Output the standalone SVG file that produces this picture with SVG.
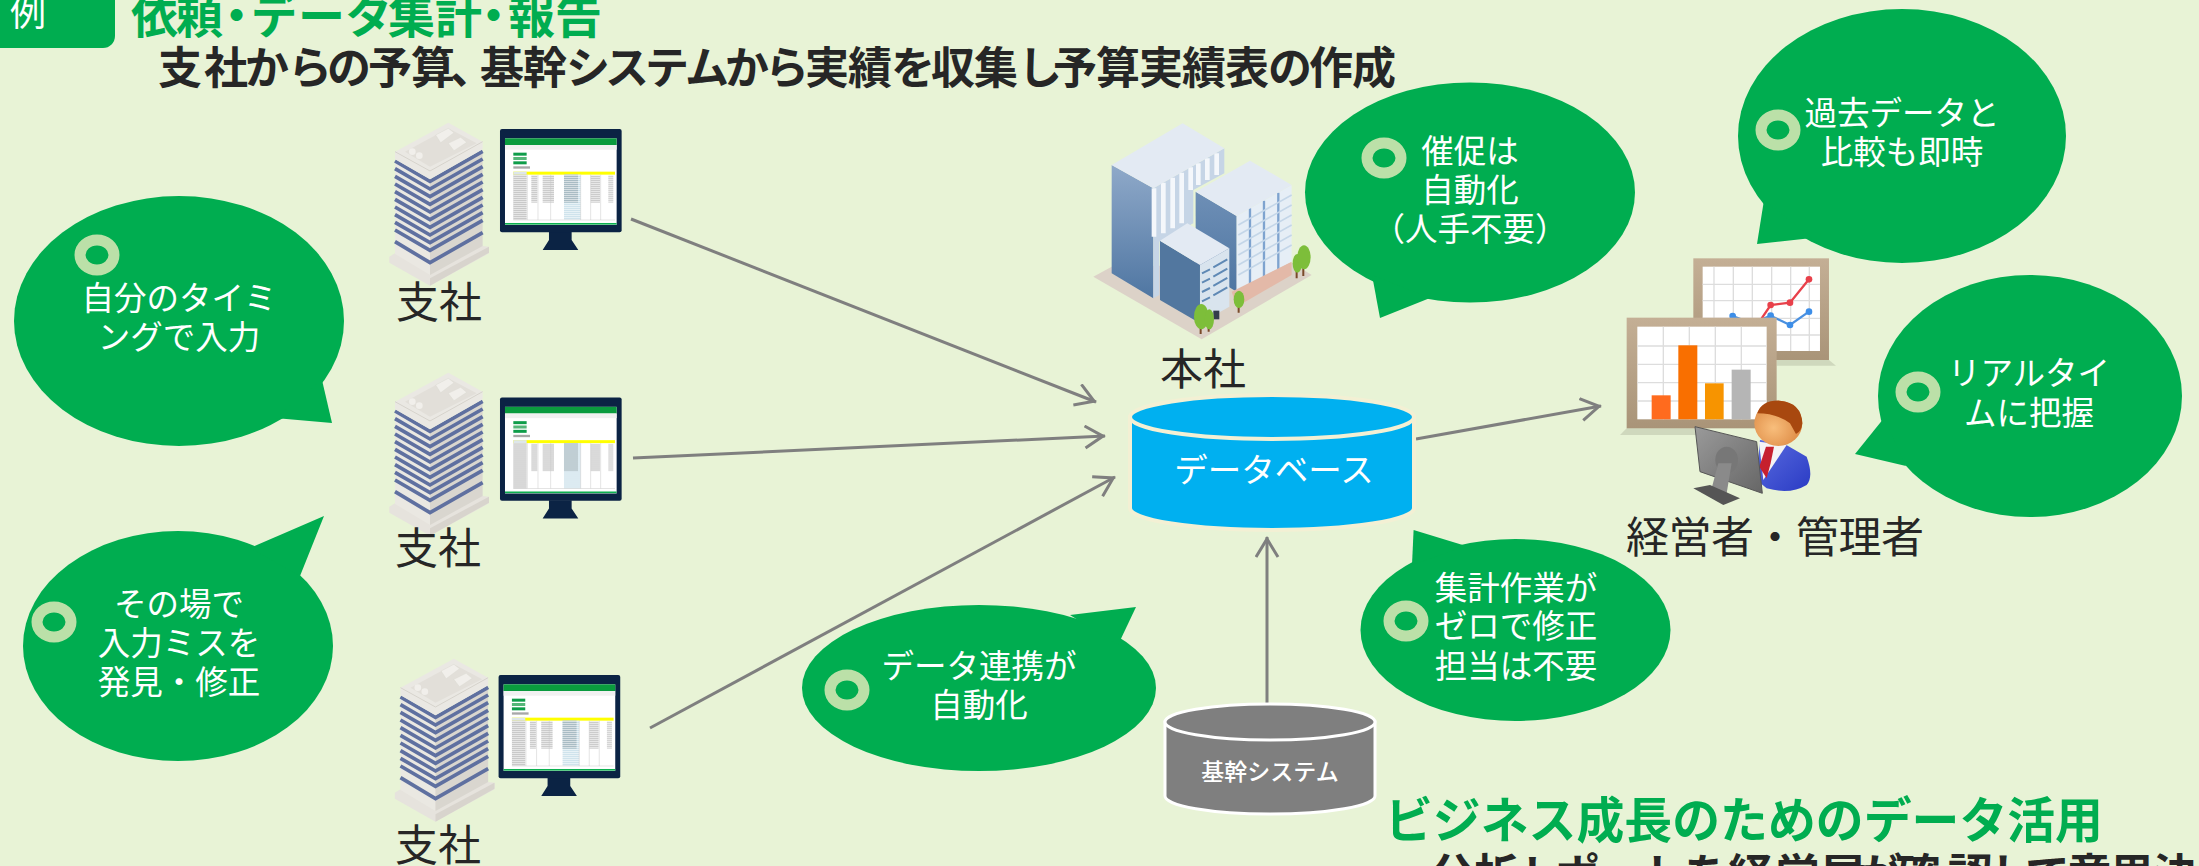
<svg xmlns="http://www.w3.org/2000/svg" xmlns:xlink="http://www.w3.org/1999/xlink" width="2199" height="866" viewBox="0 0 2199 866">
<style>
text{font-family:"Noto Sans CJK JP","Noto Sans",sans-serif}
.b{fill:#00AD50}
.w{fill:#fff;font-size:32.5px;text-anchor:middle}
.l{fill:#262626;font-size:43px}
.h{fill:#00AD50;font-size:47px;font-weight:700}
.s{fill:#262626;font-size:44px;font-weight:700}
.r{fill:none;stroke:#BBE0A8;stroke-width:11}
.c{fill:none;stroke:#7F7F7F;stroke-width:3;marker-end:url(#a)}
</style>
<defs>
<marker id="a" markerUnits="userSpaceOnUse" markerWidth="30" markerHeight="30" refX="21" refY="12" orient="auto">
<path d="M1 1L19 12L1 23" fill="none" stroke="#7F7F7F" stroke-width="3"/>
</marker>
<linearGradient id="g1" x1="0" y1="0" x2="0" y2="1"><stop offset="0" stop-color="#8FA9C9"/><stop offset="1" stop-color="#4F76A2"/></linearGradient>
<linearGradient id="g2" x1="0" y1="0" x2="0" y2="1"><stop offset="0" stop-color="#6E8FB6"/><stop offset="1" stop-color="#4F76A2"/></linearGradient>
<linearGradient id="fr" x1="0" y1="0" x2="0" y2="1"><stop offset="0" stop-color="#C4AF95"/><stop offset="1" stop-color="#A99478"/></linearGradient>
<radialGradient id="sk" cx=".4" cy=".6" r=".7"><stop offset="0" stop-color="#F8BE7C"/><stop offset="1" stop-color="#D9813A"/></radialGradient>
<linearGradient id="bl" x1="0" y1="0" x2="1" y2="1"><stop offset="0" stop-color="#5A6CE0"/><stop offset="1" stop-color="#2A3BC4"/></linearGradient>
<linearGradient id="mon" x1="0" y1="0" x2="1" y2="1"><stop offset="0" stop-color="#9A9A9A"/><stop offset="1" stop-color="#666"/></linearGradient>
<pattern id="rows" width="8" height="6" patternUnits="userSpaceOnUse"><rect width="8" height="6" fill="#fff" fill-opacity="0"/><rect y="4" width="8" height="1.6" fill="#fff"/></pattern>
<g id="tower">
<path d="M58 440L75 430L338 408L357 410V430L180 527L58 458Z" fill="#E6E3DD"/>
<path d="M180 505L357 410V428L180 527Z" fill="#D8D4CD"/>
<path d="M75 150L180 210V495L75 432Z" fill="#EAE8E2"/>
<path d="M180 210L338 120V408L180 495Z" fill="#D9D6CF"/>
<g fill="none" stroke="#5F70A0" stroke-width="11">
<path d="M75 153L180 214L338 124"/><path d="M75 176L180 237L338 147"/><path d="M75 199L180 260L338 170"/><path d="M75 222L180 283L338 193"/><path d="M75 245L180 306L338 216"/><path d="M75 268L180 329L338 239"/><path d="M75 291L180 352L338 262"/><path d="M75 314L180 375L338 285"/><path d="M75 337L180 398L338 308"/><path d="M75 360L180 421L338 331"/><path d="M75 395L180 458L338 368"/>
</g>
<path d="M75 125L235 38L338 95V118L180 208L75 148Z" fill="#EAE8E3"/>
<path d="M75 125L180 183L338 95" fill="none" stroke="#D6D3CC" stroke-width="3"/>
<path d="M105 125L235 55L320 100L180 170Z" fill="#E2DFD9"/>
<path d="M197 75L235 55L252 68L212 98ZM235 100L272 82L290 97L252 122Z" fill="#F1EFEB" stroke="#D6D3CC"/>
<circle cx="127" cy="125" r="10" fill="#F1EFEB"/><circle cx="148" cy="137" r="10" fill="#F1EFEB"/>
</g>
<g id="monitor">
<path d="M537 365H605V390L625 420H518L537 390Z" fill="#0B2344"/>
<rect x="390" y="57" width="365" height="310" rx="6" fill="#0B2344"/>
<rect x="405" y="85" width="335" height="260" fill="#fff"/>
<rect x="405" y="85" width="335" height="20" fill="#0A9B3E"/>
<rect x="405" y="339" width="335" height="5" fill="#0DB050"/>
<rect x="405" y="105" width="335" height="14" fill="#F1F1F1"/>
<rect x="430" y="128" width="40" height="9" fill="#0F9D4A"/><rect x="430" y="141" width="40" height="9" fill="#55B678"/><rect x="430" y="154" width="40" height="9" fill="#0F9D4A"/>
<rect x="430" y="169" width="50" height="7" fill="#A8A8A8"/>
<rect x="430" y="185" width="305" height="9" fill="#FFFF00"/>
<rect x="430" y="185" width="40" height="9" fill="#DDE6EA"/>
<rect x="430" y="194" width="40" height="136" fill="#C9C9C9"/>
<rect x="582" y="194" width="50" height="136" fill="#CFE3EC"/>
<rect x="582" y="194" width="42" height="84" fill="#A9BCC4"/>
<rect x="484" y="196" width="18" height="82" fill="#CCC"/><rect x="518" y="196" width="34" height="82" fill="#CCC"/><rect x="662" y="196" width="28" height="82" fill="#CCC"/><rect x="715" y="196" width="15" height="82" fill="#D4D4D4"/>
<rect x="430" y="194" width="305" height="136" fill="url(#rows)"/>
<path d="M430 330H735M472 194V330M504 194V330M542 194V330M632 194V330M662 194V330M692 194V330" stroke="#C8C8C8" stroke-width="1.5" fill="none"/>
</g>
</defs>
<rect width="2199" height="866" fill="#E8F3D6"/>
<g id="connectors">
<path class="c" d="M631 219L1096 402"/>
<path class="c" d="M633 458L1105 436"/>
<path class="c" d="M650 728L1115 477"/>
<path class="c" d="M1416 439L1601 406"/>
<path class="c" d="M1267 705V537"/>
</g>
<g id="badge">
<rect x="-20" y="-20" width="135" height="68" rx="12" class="b"/>
<text x="28" y="26" fill="#fff" font-size="36" text-anchor="middle">例</text>
</g>
<g id="titles">
<text class="h" y="33" x="131 176 213 251 298 345 388 435 470 508 555">依頼・データ集計・報告</text>
<text class="s" y="84" x="158 204 245 288 327 368 411 450 480 523 566 605 645 685 725 765 805 848 891 931 974 1018 1053 1096 1139 1182 1225 1268 1309 1352">支社からの予算、基幹システムから実績を収集し予算実績表の作成</text>
<text class="h" style="font-size:49px" x="1385" y="838" textLength="718" lengthAdjust="spacingAndGlyphs">ビジネス成長のためのデータ活用</text>
<text class="s" style="font-size:45px" y="892" x="1430 1474 1520 1555 1598 1640 1684 1728 1775 1820 1858 1895 1948 1990 2025 2067 2110 2153 2197">分析レポートを経営層が確認して意思決定</text>
</g>
<g id="branch1"><use xlink:href="#tower" transform="translate(370 110) scale(.3333)"/><use xlink:href="#monitor" transform="translate(370 110) scale(.3333)"/><text class="l" x="396" y="318">支社</text></g>
<g id="branch2"><use xlink:href="#tower" transform="translate(370 360) scale(.3333)"/><use xlink:href="#monitor" transform="translate(370 378.5) scale(.3333)"/><text class="l" x="395" y="564">支社</text></g>
<g id="branch3"><use xlink:href="#tower" transform="translate(375.5 646) scale(.3333)"/><use xlink:href="#monitor" transform="translate(368.6 656) scale(.3333)"/><text class="l" x="395" y="861">支社</text></g>
<g id="hq">
<g transform="translate(1080 110) scale(.3333)">
<path d="M40 500L95 470L640 460L695 495L365 688Z" fill="#DCD2C8"/>
<path d="M95 165L220 235V565L95 490Z" fill="url(#g1)"/>
<path d="M220 235L433 115V190L340 240V340L238 395V555L220 565Z" fill="#C6D5E6"/>
<path d="M222 235V380M250 218V370M278 203V355M305 188V340M332 172V240M355 160V225M382 145V210M410 130V195" stroke="#F4F7FB" stroke-width="14" fill="none"/>
<path d="M95 165L308 40L433 115L220 235Z" fill="#E3EAF3"/>
<path d="M347 245L470 318V545L347 470Z" fill="url(#g2)"/>
<path d="M470 318L635 225V455L470 548Z" fill="#E6EEF6"/>
<path d="M510 295V525M552 272V505M595 248V480" stroke="#7EA3CF" stroke-width="7" fill="none"/>
<path d="M475 345L635 255M475 375L635 285M475 405L635 315M475 435L635 345M475 465L635 375M475 495L635 405" stroke="#C4D6E8" stroke-width="5" fill="none"/>
<path d="M347 245L510 152L635 225L470 318Z" fill="#E3EAF3"/>
<path d="M455 545L635 455V495L470 590Z" fill="#E3B9A8"/>
<path d="M240 392L360 465V640L240 570Z" fill="#52779F"/>
<path d="M360 465L448 415V590L360 640Z" fill="#D9E4EE"/>
<path d="M366 490L390 478M400 472L442 448M366 518L390 506M400 500L442 476M366 546L390 534M400 528L442 504M366 574L390 562M400 556L442 532" stroke="#5F89B5" stroke-width="6" fill="none"/>
<path d="M240 392L322 340L448 415L360 465Z" fill="#E3EAF3"/>
<rect x="400" y="602" width="18" height="26" fill="#333E4A"/>
<g stroke="#7A4A2A" stroke-width="6"><path d="M362 620V672M386 625V665M476 570V608M650 470V505M670 460V498"/></g>
<g fill="#7DBE3A"><ellipse cx="364" cy="620" rx="22" ry="38"/><ellipse cx="388" cy="628" rx="14" ry="30"/><ellipse cx="477" cy="568" rx="16" ry="26"/><ellipse cx="652" cy="460" rx="14" ry="28"/><ellipse cx="672" cy="442" rx="20" ry="36"/></g>
</g>
<text class="l" x="1160" y="385">本社</text>
</g>
<g id="manager">
<g transform="translate(1610 250) scale(.3333)">
<path d="M500 330H657L678 347H500Z" fill="#CFD8BD"/>
<rect x="250" y="25" width="407" height="305" fill="url(#fr)"/>
<rect x="278" y="50" width="352" height="253" fill="#fff"/>
<path d="M278 103H630M278 152H630M278 205H630M278 255H630M312 50V303M370 50V303M427 50V303M485 50V303M542 50V303M598 50V303" stroke="#DDD" stroke-width="4" fill="none"/>
<path d="M368 198L425 220L482 197L540 225L597 185" fill="none" stroke="#4A90E0" stroke-width="7"/>
<path d="M455 205L482 165L540 158L597 88" fill="none" stroke="#E8404A" stroke-width="7"/>
<g fill="#E8404A"><circle cx="482" cy="165" r="10"/><circle cx="540" cy="158" r="10"/><circle cx="597" cy="88" r="10"/></g>
<g fill="#3D8EE8"><circle cx="368" cy="198" r="10"/><circle cx="482" cy="197" r="10"/><circle cx="540" cy="225" r="10"/><circle cx="597" cy="185" r="10"/></g>
<path d="M50 535L30 555H300L290 535Z" fill="#CFD8BD"/>
<rect x="50" y="203" width="450" height="332" fill="url(#fr)"/>
<rect x="82" y="230" width="388" height="278" fill="#fff"/>
<path d="M82 288H470M82 343H470M82 398H470M82 453H470M160 230V508M238 230V508M316 230V508M394 230V508" stroke="#DDD" stroke-width="4" fill="none"/>
<rect x="125" y="436" width="57" height="72" fill="#FF6B1E"/>
<rect x="205" y="286" width="57" height="222" fill="#F96F00"/>
<rect x="285" y="400" width="56" height="108" fill="#F79400"/>
<rect x="365" y="359" width="57" height="149" fill="#B5B5B5"/>
<path d="M450 570L520 580L590 620Q612 680 590 705Q540 735 470 715L440 690Z" fill="url(#bl)"/>
<path d="M447 575L530 585L460 690Z" fill="#F4F4F4"/>
<path d="M468 590H492L482 640L470 685L448 650Z" fill="#C6202E"/>
<ellipse cx="505" cy="520" rx="72" ry="68" fill="url(#sk)"/>
<path d="M442 490Q455 450 510 452Q575 458 577 520Q575 545 558 552L540 520Q500 490 442 490Z" fill="#A8480F"/>
<path d="M255 530L440 575L457 730L270 665Z" fill="url(#mon)" stroke="#555" stroke-width="3"/>
<ellipse cx="350" cy="630" rx="34" ry="40" fill="#777"/>
<path d="M325 640H365L350 730L305 715Z" fill="#8A8A8A"/>
<path d="M250 715L300 705L390 745L340 765Z" fill="#555"/>
</g>
<text class="l" x="1626" y="553" textLength="298" lengthAdjust="spacing">経営者・管理者</text>
</g>
<g id="database">
<path d="M1130 417V508A142 22 0 0 0 1414 508V417Z" fill="#00B0F0" stroke="#F3F0D4" stroke-width="4"/>
<ellipse cx="1272" cy="417" rx="142" ry="22" fill="#00B0F0" stroke="#F3F0D4" stroke-width="4"/>
<text class="w" style="font-size:33.5px" x="1274" y="482">データベース</text>
</g>
<g id="core">
<path d="M1165 722V796A105 18 0 0 0 1375 796V722Z" fill="#7F7F7F" stroke="#fff" stroke-width="3"/>
<ellipse cx="1270" cy="722" rx="105" ry="18" fill="#7F7F7F" stroke="#fff" stroke-width="3"/>
<text x="1270" y="780" fill="#fff" font-size="23" font-weight="500" text-anchor="middle">基幹システム</text>
</g>
<g id="bubble1">
<ellipse class="b" cx="179" cy="321" rx="165" ry="125"/><path class="b" d="M322 380L332 423L275 418Z"/>
<ellipse class="r" cx="97" cy="255" rx="17" ry="15"/>
<text class="w" x="179" y="310">自分のタイミ</text><text class="w" x="179" y="349">ングで入力</text>
</g>
<g id="bubble2">
<ellipse class="b" cx="178" cy="646" rx="155" ry="115"/><path class="b" d="M250 548L324 516L300 576Z"/>
<ellipse class="r" cx="54" cy="622" rx="17" ry="15"/>
<text class="w" x="179" y="616">その場で</text><text class="w" x="179" y="655">入力ミスを</text><text class="w" x="179" y="694">発見・修正</text>
</g>
<g id="bubble3">
<ellipse class="b" cx="979" cy="688" rx="177" ry="83"/><path class="b" d="M1070 615L1136 607L1118 645Z"/>
<ellipse class="r" cx="847" cy="690" rx="17" ry="15"/>
<text class="w" x="979" y="678">データ連携が</text><text class="w" x="979" y="717">自動化</text>
</g>
<g id="bubble4">
<ellipse class="b" cx="1470" cy="192.5" rx="165" ry="110"/><path class="b" d="M1372 275L1380 318L1430 298Z"/>
<ellipse class="r" cx="1384" cy="158" rx="17" ry="15"/>
<text class="w" x="1470" y="163">催促は</text><text class="w" x="1470" y="202">自動化</text><text class="w" x="1470" y="241">（人手不要）</text>
</g>
<g id="bubble5">
<ellipse class="b" cx="1902" cy="136" rx="164" ry="127"/><path class="b" d="M1764 200L1757 244L1812 238Z"/>
<ellipse class="r" cx="1778" cy="130" rx="17" ry="15"/>
<text class="w" x="1902" y="125">過去データと</text><text class="w" x="1902" y="164">比較も即時</text>
</g>
<g id="bubble6">
<ellipse class="b" cx="2030" cy="396" rx="152" ry="121"/><path class="b" d="M1884 418L1855 454L1906 466Z"/>
<ellipse class="r" cx="1918" cy="392" rx="17" ry="15"/>
<text class="w" x="2029" y="385">リアルタイ</text><text class="w" x="2029" y="425">ムに把握</text>
</g>
<g id="bubble7">
<ellipse class="b" cx="1515.5" cy="630" rx="155" ry="91"/><path class="b" d="M1412 565L1413.6 530L1466 546Z"/>
<ellipse class="r" cx="1406" cy="621" rx="17" ry="15"/>
<text class="w" x="1516" y="600">集計作業が</text><text class="w" x="1516" y="638">ゼロで修正</text><text class="w" x="1516" y="678">担当は不要</text>
</g>
</svg>
